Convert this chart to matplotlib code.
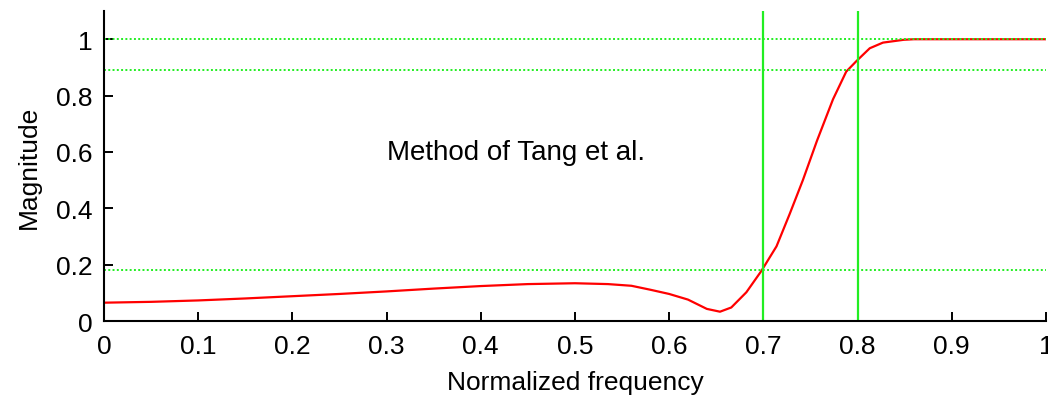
import numpy as np
import matplotlib.pyplot as plt

# magnitude response
freq = [0, 0.05, 0.1, 0.15, 0.2, 0.25, 0.3, 0.35, 0.4, 0.45, 0.5, 0.535,
        0.56, 0.58, 0.60, 0.62, 0.64, 0.654, 0.666, 0.682, 0.698, 0.714,
        0.728, 0.742, 0.757, 0.774, 0.788, 0.799, 0.813, 0.827, 0.849, 0.86, 1.0]
mag = [0.065, 0.068, 0.073, 0.080, 0.088, 0.096, 0.105, 0.115, 0.124, 0.131,
       0.134, 0.131, 0.125, 0.111, 0.096, 0.076, 0.043, 0.033, 0.048, 0.102,
       0.178, 0.265, 0.380, 0.500, 0.640, 0.787, 0.885, 0.923, 0.968, 0.988,
       0.998, 1.0, 1.0]

hlines = [1.0, 0.89, 0.18]
vlines = [0.7, 0.8]
xticks = np.arange(0, 1.01, 0.1)
xticklabels = ['0', '0.1', '0.2', '0.3', '0.4', '0.5', '0.6', '0.7', '0.8', '0.9', '1']
yticks = [0, 0.2, 0.4, 0.6, 0.8, 1.0]
yticklabels = ['0', '0.2', '0.4', '0.6', '0.8', '1']

plt.rcParams['font.family'] = ['Liberation Sans', 'DejaVu Sans']

fig = plt.figure(figsize=(10.48, 4.02), dpi=100)
ax = fig.add_axes([0.0992, 0.199, 0.8988, 0.771])

green = '#22ee22'
ax.plot(freq, mag, color='red', lw=1.6)
for h in hlines:
    ax.axhline(h, color=green, lw=1.4, ls=(0, (1, 1.2)))
for v in vlines:
    ax.axvline(v, color=green, lw=1.6)

ax.text(0.30, 0.60, 'Method of Tang et al.', fontsize=20, va='center', ha='left')

ax.set_xlim(0, 1)
ax.set_ylim(0, 1.1)
ax.set_xticks(xticks)
ax.set_xticklabels(xticklabels)
ax.set_yticks(yticks)
ax.set_yticklabels(yticklabels)
ax.tick_params(direction='in', length=6.5, width=1.4, labelsize=19)
ax.tick_params(axis='x', pad=9)
ax.tick_params(axis='y', pad=8)
ax.spines['top'].set_visible(False)
ax.spines['right'].set_visible(False)
for s in ['left', 'bottom']:
    ax.spines[s].set_linewidth(1.5)
ax.set_xlabel('Normalized frequency', fontsize=19, labelpad=9)
ax.set_ylabel('Magnitude', fontsize=19, labelpad=11)

fig.savefig('out.png', dpi=100)
